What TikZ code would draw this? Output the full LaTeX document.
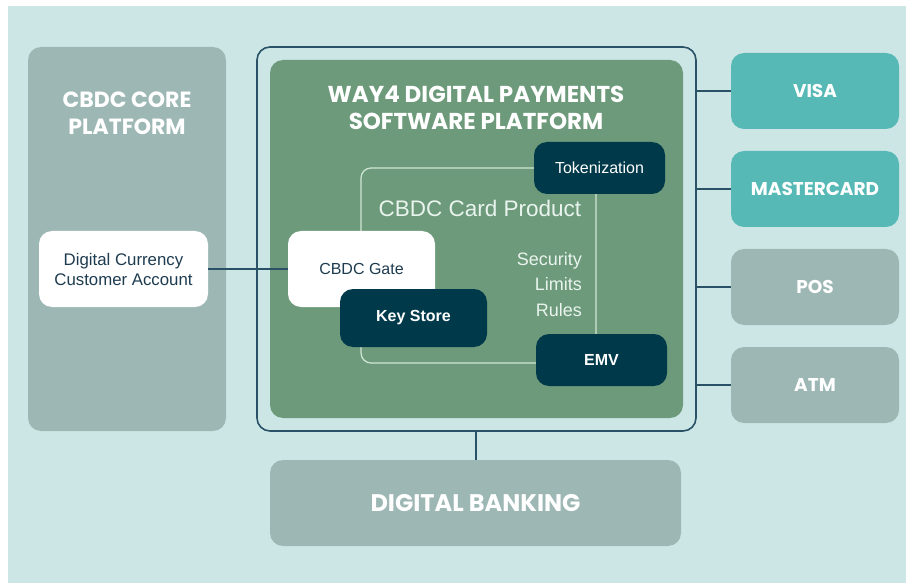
\documentclass[tikz,border=0pt]{standalone}
\usepackage{fontspec}
\setmainfont{Liberation Sans}
\newfontfamily\headfont{Poppins}
\definecolor{bgcol}{RGB}{204,230,230}
\definecolor{greycol}{RGB}{157,184,180}
\definecolor{greencol}{RGB}{108,154,122}
\definecolor{navycol}{RGB}{0,58,74}
\definecolor{linecol}{RGB}{42,82,102}
\definecolor{tealcol}{RGB}{86,185,181}
\definecolor{prodcol}{RGB}{208,230,214}
\definecolor{softwhite}{RGB}{234,244,238}
\definecolor{inkcol}{RGB}{30,60,80}
\tikzset{
    box/.style={rounded corners=13pt,inner sep=0pt,align=center},
    greybox/.style={box,fill=greycol,text=white,font=\headfont\bfseries\fontsize{20}{24}\selectfont},
    chanbox/.style={greybox,minimum width=168pt,minimum height=76pt,font=\headfont\bfseries\fontsize{18.5}{22}\selectfont},
    cardbox/.style={chanbox,fill=tealcol},
    whitebox/.style={box,fill=white,text=inkcol,font=\fontsize{16}{20}\selectfont,minimum width=147pt,minimum height=76pt},
    darkbox/.style={box,fill=navycol,text=white,font=\fontsize{16}{20}\selectfont,minimum width=131pt,minimum height=52pt},
    head/.style={inner sep=0pt,align=center,text=white,font=\headfont\bfseries\fontsize{22}{27}\selectfont},
    txt/.style={inner sep=0pt,text=softwhite,font=\fontsize{18}{25.5}\selectfont},
    wire/.style={draw=linecol,line width=2pt},
}
\begin{document}
\begin{tikzpicture}[x=1pt,y=-1pt]
\useasboundingbox (0,0) rectangle (906,583);
\fill[bgcol] (8,6) rectangle (906,583);
% left column
\node[greybox,minimum width=198pt,minimum height=384pt] (core) at (127,239) {};
\node[head] (coretitle) at (127,113) {CBDC CORE\\PLATFORM};
\node[whitebox,minimum width=169pt,font=\fontsize{16.8}{20}\selectfont] (account) at (123.5,269) {Digital Currency\\Customer Account};
% way4 platform
\node[box,draw=linecol,line width=1.6pt,minimum width=439pt,minimum height=384pt] (frame) at (476.5,239) {};
\node[box,fill=greencol,minimum width=413pt,minimum height=358pt] (way4) at (476.5,239) {};
\node[head,font=\headfont\bfseries\fontsize{23}{27}\selectfont] (way4title) at (476,107.5) {WAY4 DIGITAL PAYMENTS\\SOFTWARE PLATFORM};
\node[box,rounded corners=10pt,draw=prodcol,line width=1.2pt,minimum width=235pt,minimum height=195pt] (product) at (478.5,265.5) {};
\node[txt,font=\fontsize{22.5}{25}\selectfont] (cardprod) at (480,208) {CBDC Card Product};
\node[txt,align=right,anchor=east] (rules) at (582,284.5) {Security\\Limits\\Rules};
\node[darkbox] (token) at (599.5,168) {Tokenization};
\node[darkbox] (emv) at (601.5,360) {\bfseries EMV};
\node[whitebox] (gate) at (361.5,269) {CBDC Gate};
\node[darkbox,minimum width=147pt,minimum height=58pt] (keystore) at (413.5,318) {\bfseries Key Store};
% channels
\node[cardbox] (visa) at (815,91) {VISA};
\node[cardbox] (master) at (815,189) {MASTERCARD};
\node[chanbox] (pos) at (815,287) {POS};
\node[chanbox] (atm) at (815,385) {ATM};
\node[greybox,minimum width=411pt,minimum height=86pt,font=\headfont\bfseries\fontsize{24}{28}\selectfont] (bank) at (475.5,503) {DIGITAL BANKING};
% links
\draw[wire] (account.east) -- (gate.west);
\foreach \c in {visa,master,pos,atm}
    \draw[wire] (frame.east |- \c.west) -- (\c.west);
\draw[wire] (frame.south -| bank.north) -- (bank.north);
\end{tikzpicture}
\end{document}
